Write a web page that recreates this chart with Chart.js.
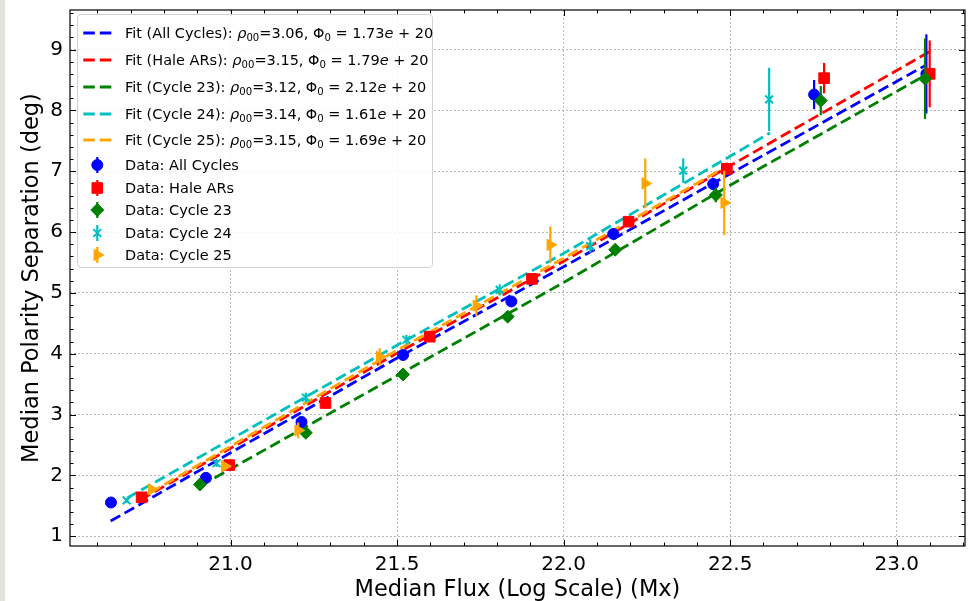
<!DOCTYPE html>
<html>
<head>
<meta charset="utf-8">
<script src="https://cdn.jsdelivr.net/npm/chart.js@4.4.1/dist/chart.umd.min.js"></script>
<style>
  html, body { margin: 0; padding: 0; background: #fff; }
  #wrap { position: relative; width: 978px; height: 601px; }
  #strip { position: absolute; left: 0; top: 0; width: 5px; height: 601px; background: #e6e2de; }
  #legend {
    position: absolute; left: 77px; top: 14px; width: 356px; height: 254px;
    box-sizing: border-box; border: 1px solid #d2d2d2; border-radius: 4px;
    background: rgba(255, 255, 255, 0.85);
    font-family: 'DejaVu Sans', sans-serif; font-size: 14.5px; color: #000;
  }
  .row { position: absolute; left: 0; height: 22px; line-height: 22px; white-space: nowrap; }
  .row canvas { position: absolute; left: 4px; top: 0; }
  .row span { position: absolute; left: 47px; top: 0; }
  sub { font-size: 70%; vertical-align: -0.3em; line-height: 0; }
</style>
</head>
<body>
<div id="wrap">
  <canvas id="chart" width="978" height="601"></canvas>
  <div id="strip"></div>
  <div id="legend"></div>
</div>
<script>
// Datos (log10 del flujo, separación mediana en grados)
const allX = [20.641, 20.926, 21.213, 21.518, 21.843, 22.149, 22.449, 22.752, 23.089];
const allY = [1.555, 1.96, 2.88, 3.98, 4.86, 5.97, 6.79, 8.26, 8.60];
const allErr = [0.03, 0.04, 0.05, 0.06, 0.06, 0.07, 0.10, 0.24, 0.65];

const haleX = [20.733, 20.996, 21.285, 21.598, 21.905, 22.195, 22.490, 22.782, 23.099];
const haleY = [1.64, 2.17, 3.19, 4.28, 5.23, 6.17, 7.04, 8.53, 8.60];
const haleErr = [0.05, 0.05, 0.06, 0.06, 0.06, 0.07, 0.10, 0.25, 0.55];

const c23X = [20.908, 21.226, 21.518, 21.832, 22.155, 22.457, 22.772, 23.085];
const c23Y = [1.85, 2.70, 3.66, 4.61, 5.71, 6.61, 8.16, 8.52];
const c23Err = [0.05, 0.06, 0.06, 0.06, 0.08, 0.12, 0.24, 0.66];

const c24X = [20.688, 20.958, 21.226, 21.528, 21.808, 22.080, 22.359, 22.617];
const c24Y = [1.59, 2.20, 3.28, 4.23, 5.05, 5.77, 7.01, 8.18];
const c24Err = [0.04, 0.06, 0.08, 0.08, 0.09, 0.11, 0.20, 0.52];

const c25X = [20.763, 20.983, 21.203, 21.448, 21.738, 21.960, 22.245, 22.482];
const c25Y = [1.77, 2.15, 2.74, 3.95, 4.79, 5.79, 6.80, 6.48];
const c25Err = [0.05, 0.07, 0.13, 0.14, 0.17, 0.30, 0.41, 0.53];

// Curvas de ajuste (puntos leídos sobre las líneas discontinuas)
const fitAllX = [20.64, 21.5, 22.0, 22.5, 23.09];
const fitAllY = [1.25, 3.93, 5.43, 6.96, 8.75];
const fitHaleX = [20.73, 21.5, 22.0, 22.5, 23.10];
const fitHaleY = [1.60, 4.01, 5.52, 7.09, 8.97];
const fitC23X = [20.91, 21.5, 22.0, 22.5, 23.09];
const fitC23Y = [1.83, 3.64, 5.17, 6.77, 8.59];
const fitC24X = [20.69, 21.5, 22.0, 22.62];
const fitC24Y = [1.63, 4.14, 5.65, 7.63];
const fitC25X = [20.76, 21.5, 22.0, 22.49];
const fitC25Y = [1.72, 4.06, 5.57, 7.08];

// Etiquetas
const groupNames = ['All Cycles', 'Hale ARs', 'Cycle 23', 'Cycle 24', 'Cycle 25'];
const rho00 = ['3.06', '3.15', '3.12', '3.14', '3.15'];
const phi0 = ['1.73', '1.79', '2.12', '1.61', '1.69'];

// Estilos
const colors = ['#0000ff', '#ff0000', '#008000', '#00bfbf', '#ffa500'];
const markers = ['circle', 'rect', 'rectRot', 'crossRot', 'triangle'];
const markerRadius = [5.5, 7.5, 6.5, 5.5, 6.5];
const markerRotation = [0, 0, 0, 0, 90];

const toPts = (xs, ys) => xs.map((x, i) => ({ x: x, y: ys[i] }));

const dataSeries = [
    [allX, allY, allErr], [haleX, haleY, haleErr], [c23X, c23Y, c23Err],
    [c24X, c24Y, c24Err], [c25X, c25Y, c25Err]
];
const fitSeries = [
    [fitAllX, fitAllY], [fitHaleX, fitHaleY], [fitC23X, fitC23Y],
    [fitC24X, fitC24Y], [fitC25X, fitC25Y]
];

const datasets = [];
fitSeries.forEach((s, i) => {
    datasets.push({
        type: 'line',
        label: 'Fit (' + groupNames[i] + ')',
        data: toPts(s[0], s[1]),
        borderColor: colors[i],
        borderWidth: 2.8,
        borderDash: [11, 5],
        pointRadius: 0,
        fill: false,
        tension: 0
    });
});
dataSeries.forEach((s, i) => {
    datasets.push({
        type: 'scatter',
        label: 'Data: ' + groupNames[i],
        data: toPts(s[0], s[1]),
        errors: s[2],
        pointStyle: markers[i],
        pointRadius: markerRadius[i],
        rotation: markerRotation[i],
        backgroundColor: colors[i],
        borderColor: colors[i],
        borderWidth: markers[i] === 'crossRot' ? 2 : 1
    });
});
// el último dataset se dibuja encima
datasets.forEach((d, i) => { d.order = datasets.length - i; });

// Barras de error verticales, dibujadas antes de los marcadores
const errorBars = {
    id: 'errorBars',
    beforeDatasetDraw(chart, args) {
        const ds = chart.data.datasets[args.index];
        if (!ds.errors) return;
        const { ctx, scales: { x, y } } = chart;
        ctx.save();
        ctx.strokeStyle = ds.borderColor;
        ctx.lineWidth = 2.2;
        ds.data.forEach((p, i) => {
            const px = x.getPixelForValue(p.x);
            ctx.beginPath();
            ctx.moveTo(px, y.getPixelForValue(p.y - ds.errors[i]));
            ctx.lineTo(px, y.getPixelForValue(p.y + ds.errors[i]));
            ctx.stroke();
        });
        ctx.restore();
    }
};

// Marco y marcas hacia dentro en los cuatro lados (estilo matplotlib)
const frameTicks = {
    id: 'frameTicks',
    afterDatasetsDraw(chart) {
        const { ctx, chartArea: a, scales: { x, y } } = chart;
        ctx.save();
        ctx.strokeStyle = '#000';
        ctx.lineWidth = 1;
        ctx.beginPath();
        for (let k = Math.ceil(x.min * 10); k <= Math.floor(x.max * 10); k++) {
            const px = Math.round(x.getPixelForValue(k / 10)) + 0.5;
            const len = k % 5 === 0 ? 6 : 3.5;
            ctx.moveTo(px, a.bottom); ctx.lineTo(px, a.bottom - len);
            ctx.moveTo(px, a.top); ctx.lineTo(px, a.top + len);
        }
        for (let k = Math.ceil(y.min * 5); k <= Math.floor(y.max * 5); k++) {
            const py = Math.round(y.getPixelForValue(k / 5)) + 0.5;
            const len = k % 5 === 0 ? 6 : 3.5;
            ctx.moveTo(a.left, py); ctx.lineTo(a.left + len, py);
            ctx.moveTo(a.right, py); ctx.lineTo(a.right - len, py);
        }
        ctx.stroke();
        ctx.lineWidth = 1.2;
        ctx.strokeRect(a.left, a.top, a.right - a.left, a.bottom - a.top);
        ctx.restore();
    }
};

const tickFont = { family: 'DejaVu Sans', size: 20 };
const titleFont = { family: 'DejaVu Sans', size: 22.5, lineHeight: 1 };

const chart = new Chart(document.getElementById('chart').getContext('2d'), {
    type: 'scatter',
    data: { datasets: datasets },
    options: {
        responsive: false,
        animation: false,
        layout: { padding: { top: 10, right: 13, left: 0, bottom: 0 } },
        plugins: {
            legend: { display: false },
            tooltip: { enabled: false }
        },
        scales: {
            x: {
                type: 'linear',
                min: 20.518,
                max: 23.205,
                afterFit: s => { s.height = 55; s.paddingLeft = 0; s.paddingRight = 0; },
                ticks: {
                    stepSize: 0.5,
                    includeBounds: false,
                    color: '#000',
                    font: tickFont,
                    padding: 7,
                    maxRotation: 0,
                    callback: v => v.toFixed(1)
                },
                grid: { color: '#a8a8a8', lineWidth: 0.8, drawTicks: false },
                border: { display: false, dash: [2, 2] },
                title: {
                    display: true,
                    text: 'Median Flux (Log Scale) (Mx)',
                    color: '#000',
                    font: titleFont,
                    padding: { top: 0, bottom: 0 }
                }
            },
            y: {
                type: 'linear',
                min: 0.84,
                max: 9.65,
                afterFit: s => { s.width = 70; s.paddingTop = 0; s.paddingBottom = 0; },
                ticks: {
                    stepSize: 1,
                    includeBounds: false,
                    color: '#000',
                    font: tickFont,
                    padding: 7,
                    callback: v => String(v)
                },
                grid: { color: '#a8a8a8', lineWidth: 0.8, drawTicks: false },
                border: { display: false, dash: [2, 2] },
                title: {
                    display: true,
                    text: 'Median Polarity Separation (deg)',
                    color: '#000',
                    font: titleFont,
                    padding: { top: 20.5, bottom: 0 }
                }
            }
        }
    },
    plugins: [errorBars, frameTicks]
});

// Leyenda HTML (para poder usar subíndices y cursiva)
const legend = document.getElementById('legend');
const fitRowTops = [6.7, 34.3, 61, 87.7, 114.3];
const dataRowTops = [139, 161.7, 184.3, 206.7, 229.3];

function addRow(top, html, drawGlyph) {
    const row = document.createElement('div');
    row.className = 'row';
    row.style.top = top + 'px';
    const cv = document.createElement('canvas');
    cv.width = 34; cv.height = 22;
    row.appendChild(cv);
    const span = document.createElement('span');
    span.innerHTML = html;
    row.appendChild(span);
    legend.appendChild(row);
    drawGlyph(cv.getContext('2d'));
}

groupNames.forEach((name, i) => {
    addRow(fitRowTops[i],
        'Fit (' + name + '): <i>ρ</i><sub>00</sub>=' + rho00[i] +
        ', Φ<sub>0</sub> = ' + phi0[i] + '<i>e</i> + 20',
        g => {
            g.strokeStyle = colors[i];
            g.lineWidth = 2.8;
            g.setLineDash([11.5, 5]);
            g.beginPath(); g.moveTo(1.3, 11); g.lineTo(30, 11); g.stroke();
        });
});
groupNames.forEach((name, i) => {
    addRow(dataRowTops[i], 'Data: ' + name, g => {
        g.strokeStyle = colors[i];
        g.fillStyle = colors[i];
        g.lineWidth = 2.2;
        g.beginPath(); g.moveTo(15.3, 3); g.lineTo(15.3, 19); g.stroke();
        g.lineWidth = markers[i] === 'crossRot' ? 2 : 1;
        Chart.helpers.drawPoint(g, {
            pointStyle: markers[i], radius: markerRadius[i],
            rotation: markerRotation[i], borderWidth: g.lineWidth
        }, 15.3, 11);
    });
});
</script>
</body>
</html>
